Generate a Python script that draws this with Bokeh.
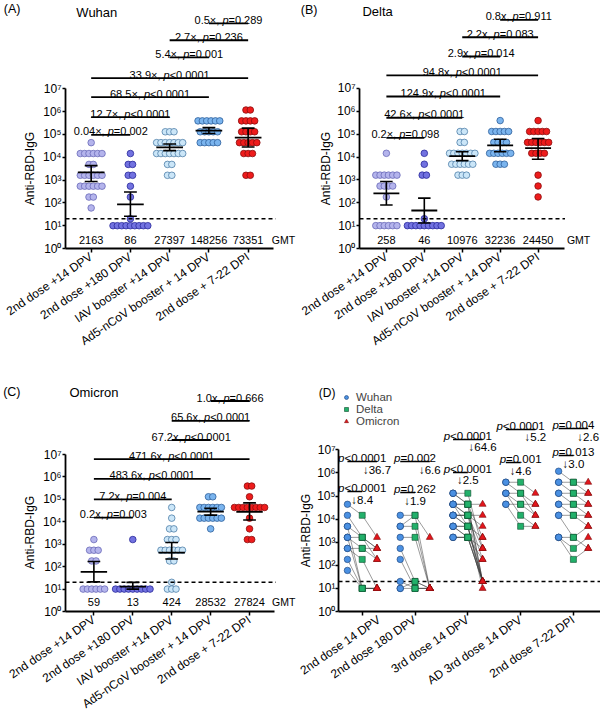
import math
from bokeh.plotting import figure
from bokeh.layouts import row, column
from bokeh.models import (Range1d, FixedTicker, Label, Legend, LegendItem, LogAxis, Title)
from bokeh.core.properties import value
from bokeh.embed import file_html
from bokeh.resources import INLINE

FONT = "Liberation Sans"

# ---------------- data ----------------
groups_abc = ["2nd dose +14 DPV", "2nd dose +180 DPV", "IAV booster +14 DPV",
              "Ad5-nCoV booster + 14 DPV", "2nd dose + 7-22 DPI"]
groups_d = ["2nd dose 14 DPV", "2nd dose 180 DPV", "3rd dose 14 DPV",
            "AD 3rd dose 14 DPV", "2nd dose 7-22 DPI"]
y_ticks = [1, 10, 100, 1000, 10000, 100000, 1000000, 10000000]
y_tick_labels = ["10⁰", "10¹", "10²", "10³", "10⁴", "10⁵", "10⁶", "10⁷"]
y_title = "Anti-RBD-IgG"
detection_limit = 20

# (A) Wuhan
wuhan_g0 = [43740, 14580, 14580, 14580, 14580, 14580, 14580, 4860, 4860, 1620, 1620, 1620,
            1620, 1620, 1620, 540, 540, 540, 540, 540, 540, 180, 180, 60]
wuhan_g1 = [14580, 4860, 4860, 1620, 1620, 540, 180, 20, 10, 10, 10, 10, 10, 10, 10, 10, 10]
wuhan_g2 = [131220, 131220, 131220, 43740, 43740, 43740, 43740, 43740, 43740, 43740, 14580,
            14580, 14580, 14580, 14580, 14580, 14580, 4860, 4860, 1620, 1620]
wuhan_g3 = [393660, 393660, 393660, 393660, 393660, 393660, 131220, 131220, 131220, 131220,
            131220, 43740, 43740, 43740, 43740, 43740]
wuhan_g4 = [1180980, 1180980, 393660, 393660, 393660, 393660, 131220, 131220, 131220, 131220,
            43740, 43740, 43740, 43740, 43740, 14580, 14580, 14580, 1620, 1620]
gmt_wuhan = [2163, 86, 27397, 148256, 73351]
ci_lo_wuhan = [870, 26, 19500, 110000, 28000]
ci_hi_wuhan = [4300, 300, 38000, 200000, 190000]
cmp_fold_wuhan = ["0.04×", "12.7×", "68.5×", "33.9×", "5.4×", "2.7×", "0.5×"]
cmp_p_wuhan = ["p=0.002", "p<0.0001", "p<0.0001", "p<0.0001", "p=0.001", "p=0.236", "p=0.289"]

# (B) Delta
delta_g0 = [14580, 1620, 1620, 1620, 1620, 1620, 1620, 540, 540, 540, 540, 180,
            10, 10, 10, 10, 10, 10]
delta_g1 = [14580, 4860, 1620, 1620, 20, 10, 10, 10, 10, 10, 10, 10, 10, 10]
delta_g2 = [131220, 131220, 43740, 43740, 14580, 14580, 14580, 14580, 14580, 14580, 14580,
            4860, 4860, 4860, 4860, 4860, 4860, 1620, 1620, 1620]
delta_g3 = [393660, 131220, 131220, 131220, 131220, 131220, 43740, 43740, 43740, 43740,
            14580, 14580, 14580, 14580, 14580, 14580, 4860, 4860, 4860]
delta_g4 = [393660, 131220, 131220, 131220, 131220, 131220, 43740, 43740, 43740, 43740, 43740,
            43740, 14580, 14580, 14580, 14580, 1620, 540, 180]
gmt_delta = [258, 46, 10976, 32236, 24450]
ci_lo_delta = [80, 13, 7000, 17000, 8000]
ci_hi_delta = [850, 160, 17000, 60000, 65000]
cmp_fold_delta = ["0.2×", "42.6×", "124.9x", "94.8x", "2.9x", "2.2x", "0.8x"]
cmp_p_delta = ["p=0.098", "p<0.0001", "p<0.0001", "p<0.0001", "p=0.014", "p=0.083", "p=0.911"]

# (C) Omicron
omicron_g0 = [1620, 540, 540, 540, 180, 180, 10, 10, 10, 10, 10, 10]
omicron_g1 = [1620, 10, 10, 10, 10, 10, 10, 10, 10, 10]
omicron_g2 = [43740, 14580, 4860, 4860, 1620, 1620, 1620, 540, 540, 540, 540, 540, 540,
              180, 180, 20, 10, 10, 10]
omicron_g3 = [131220, 131220, 43740, 43740, 43740, 43740, 43740, 43740, 14580, 14580, 14580,
              14580, 14580, 14580, 4860]
omicron_g4 = [393660, 393660, 131220, 43740, 43740, 43740, 43740, 43740, 43740, 43740, 43740,
              14580, 4860, 1620, 1620]
gmt_omicron = [59, 13, 424, 28532, 27824]
ci_lo_omicron = [21, 10, 220, 20000, 12000]
ci_hi_omicron = [170, 20, 1200, 40000, 70000]
cmp_fold_omicron = ["0.2x", "7.2x", "483.6x", "471.6x", "67.2x", "65.6x", "1.0x"]
cmp_p_omicron = ["p=0.003", "p=0.004", "p<0.0001", "p<0.0001", "p<0.0001", "p<0.0001", "p=0.666"]

cmp_pairs = [(0, 1), (0, 2), (0, 3), (0, 4), (2, 3), (2, 4), (3, 4)]

# (D) paired samples: per group, each subject's Wuhan / Delta / Omicron titre
d_wuhan = [
    [43740, 14580, 4860, 4860, 1620, 1620, 1620, 540, 540, 180, 60],
    [14580, 4860, 4860, 1620, 540, 180, 20, 10, 10],
    [131220, 131220, 131220, 43740, 43740, 43740, 43740, 43740, 14580, 14580, 14580, 14580,
     14580, 4860, 4860, 4860, 4860, 1620, 1620, 1620],
    [393660, 393660, 131220, 131220, 131220, 43740, 43740],
    [1180980, 393660, 393660, 131220, 131220, 43740, 43740, 14580, 14580, 1620, 1620, 1620],
]
d_delta = [
    [14580, 1620, 1620, 10, 540, 1620, 10, 540, 180, 10, 10],
    [14580, 14580, 4860, 1620, 20, 10, 10, 20, 10],
    [131220, 43740, 43740, 43740, 43740, 14580, 14580, 4860, 14580, 14580, 4860, 4860,
     14580, 4860, 4860, 1620, 1620, 1620, 1620, 1620],
    [393660, 131220, 131220, 43740, 14580, 43740, 4860],
    [393660, 393660, 131220, 131220, 43740, 43740, 14580, 14580, 1620, 540, 180, 1620],
]
d_omicron = [
    [1620, 540, 180, 10, 540, 540, 10, 180, 10, 10, 10],
    [10, 1620, 10, 10, 10, 10, 10, 10, 10],
    [540, 43740, 20, 1620, 20, 14580, 180, 20, 4860, 20, 20, 10, 540, 20, 1620, 540,
     20, 20, 180, 20],
    [131220, 43740, 14580, 43740, 4860, 14580, 4860],
    [393660, 131220, 43740, 131220, 14580, 43740, 4860, 14580, 4860, 1620, 540, 540],
]
d_p_omicron = ["p<0.0001", "p=0.002", "p<0.0001", "p<0.0001", "p=0.004"]
d_fold_omicron = ["36.7", "6.6", "64.6", "5.2", "2.6"]
d_p_delta = ["p<0.0001", "p=0.262", "p<0.0001", "p=0.001", "p=0.013"]
d_fold_delta = ["8.4", "1.9", "2.5", "4.6", "3.0"]

# ---------------- styling / layout ----------------
cat_fill = ["#b4b4ec", "#7272e0", "#cbe6f8", "#7ab4ee", "#ee1c1c"]
cat_line = ["#6a6ab8", "#2a2a9a", "#4f7fa8", "#2e5f9a", "#8a0e0e"]
c_wuhan, c_delta, c_omicron = "#4a90e2", "#22b06a", "#e3161c"

ARIAL = {'.': 0.278, ',': 0.278, ' ': 0.278, '×': 0.584, 'x': 0.5, '=': 0.584, '<': 0.584,
         'p': 0.556, '(': 0.333, ')': 0.333, 'A': 0.667, 'B': 0.667, 'D': 0.722, 'G': 0.778,
         'R': 0.722, 'I': 0.278, '-': 0.333, 'n': 0.556, 't': 0.278, 'i': 0.222, 'g': 0.556}


def text_w(s, fs):
    return sum(ARIAL.get(ch, 0.556) for ch in s) * fs


class Geo:
    """maps reference-pixel positions of a panel onto its data coordinates"""
    def __init__(self, cat0, sp, zero, dec, fig_left, fig_top, frame_left):
        self.cat0, self.sp, self.zero, self.dec = cat0, sp, zero, dec
        self.fig_left, self.fig_top, self.frame_left = fig_left, fig_top, frame_left

    def x(self, px):
        return (px - self.cat0) / self.sp

    def y(self, py):
        return 10 ** ((self.zero - py) / self.dec)


def style_axis(ax):
    ax.axis_line_width = 1.8
    ax.axis_line_color = "black"
    ax.major_tick_line_width = 1.5
    ax.major_tick_line_color = "black"
    ax.major_tick_out = 4
    ax.major_tick_in = 0
    ax.minor_tick_out = 0
    ax.minor_tick_in = 0
    ax.major_label_text_font = FONT
    ax.major_label_text_font_size = "12px"
    ax.major_label_text_color = "black"


def base_fig(g, width, height, frame_bottom, axis_right, y_labels=True):
    p = figure(width=width, height=height, output_backend="svg", toolbar_location=None,
               y_axis_type="log",
               x_range=Range1d(g.x(g.frame_left), g.x(g.fig_left + width)),
               y_range=Range1d(1, g.y(g.fig_top)),
               min_border_left=g.frame_left - g.fig_left, min_border_right=0,
               min_border_top=0, min_border_bottom=g.fig_top + height - frame_bottom)
    p.outline_line_color = None
    p.xgrid.visible = False
    p.ygrid.visible = False
    ya = p.yaxis[0]
    xa = p.xaxis[0]
    style_axis(xa)
    style_axis(ya)
    ya.ticker = FixedTicker(ticks=y_ticks)
    ya.bounds = (1, 10000000)
    ya.major_tick_out = 3
    if y_labels:
        ya.major_label_overrides = dict(zip(y_ticks, y_tick_labels))
        ya.major_label_standoff = 1
    else:
        ya.major_label_overrides = {t: "" for t in y_ticks}
        ya.major_label_standoff = 0
    xa.ticker = FixedTicker(ticks=[0, 1, 2, 3, 4])
    xa.major_label_orientation = 0.6
    xa.major_label_standoff = 3
    if axis_right is not None:
        xa.bounds = (g.x(g.frame_left), g.x(axis_right))
    return p


def label_axis(p, ticks, labels, standoff, size):
    """an extra left axis that only carries text (no line, no tick marks)"""
    ax = LogAxis(ticker=FixedTicker(ticks=ticks),
                 major_label_overrides=dict(zip(ticks, labels)),
                 axis_line_color=None, major_tick_line_color=None,
                 minor_tick_line_color=None, major_tick_out=0, major_tick_in=0,
                 minor_tick_out=0, major_label_standoff=standoff,
                 major_label_text_font=FONT, major_label_text_font_size=f"{size}px",
                 major_label_text_color="black")
    p.add_layout(ax, "left")


def y_title_left(p, center_py, frame_bottom_py, standoff):
    length = text_w(y_title, 12)
    p.add_layout(Title(text=y_title, align="left",
                       offset=frame_bottom_py - center_py - length / 2,
                       standoff=standoff, vertical_align="middle", text_font=FONT,
                       text_font_size="12px", text_font_style="normal",
                       text_color="black"), "left")


def add_label(p, g, px, py, text, size):
    p.add_layout(Label(x=g.x(px), y=g.y(py), text=text, text_font=FONT,
                       text_font_size=f"{size}px", text_align="left",
                       text_baseline="middle", text_color="black"))


def add_scatter_panel(p, g, groups, gmts, lo, hi, folds, pvals, bar_logs, dash_right,
                      gmt_py, gmt_label_px):
    step = 4.4 / g.sp
    for ci, vals in enumerate(groups):
        xs, ys = [], []
        counts = {}
        for v in vals:
            counts[v] = counts.get(v, 0) + 1
        seen = {}
        for v in vals:
            n = counts[v]
            i = seen.get(v, 0)
            seen[v] = i + 1
            xs.append(ci + (i - (n - 1) / 2) * step)
            ys.append(v)
        p.scatter(xs, ys, marker="circle", size=6.6, fill_color=cat_fill[ci],
                  line_color=cat_line[ci], line_width=0.8)
    # error bars: geometric mean with 95% CI
    cats = list(range(len(gmts)))
    mh, ch = 13.5 / g.sp, 6.5 / g.sp
    p.segment(x0=cats, y0=lo, x1=cats, y1=hi, line_color="black", line_width=1.6)
    p.segment(x0=[c - mh for c in cats], y0=gmts, x1=[c + mh for c in cats], y1=gmts,
              line_color="black", line_width=1.8)
    p.segment(x0=[c - ch for c in cats] * 2, y0=lo + hi, x1=[c + ch for c in cats] * 2,
              y1=lo + hi, line_color="black", line_width=1.6)
    # detection limit
    p.segment(x0=[p.x_range.start], y0=[detection_limit], x1=[dash_right],
              y1=[detection_limit], line_color="black", line_width=1.5, line_dash="4 3")
    # GMT values
    gy = g.y(gmt_py)
    p.text(x=cats, y=[gy] * len(cats), text=[str(v) for v in gmts], text_align="center",
           text_baseline="middle", text_font=value(FONT), text_font_size="11px",
           text_color="black")
    p.text(x=[g.x(gmt_label_px)], y=[gy], text=["GMT"], text_align="left",
           text_baseline="middle", text_font=value(FONT), text_font_size="10.5px",
           text_color="black")
    # comparison brackets
    fs = 11
    bx0, bx1, by = [], [], []
    nx, ny, nt, no = [], [], [], []
    ix, iy, it, io = [], [], [], []
    for (a, b), f, pv, bl in zip(cmp_pairs, folds, pvals, bar_logs):
        yy = 10 ** bl
        bx0.append(a); bx1.append(b); by.append(yy)
        pre, ital, suf = f + ", ", pv[0], pv[1:]
        wp, wi, ws = text_w(pre, fs), text_w(ital, fs), text_w(suf, fs)
        start = -(wp + wi + ws) / 2
        c = (a + b) / 2
        nx += [c, c]; ny += [yy, yy]; nt += [pre, suf]; no += [start, start + wp + wi]
        ix.append(c); iy.append(yy); it.append(ital); io.append(start + wp)
    p.segment(x0=bx0, y0=by, x1=bx1, y1=by, line_color="black", line_width=1.8)
    p.text(x=nx, y=ny, text=nt, x_offset=no, y_offset=-3.5, text_align="left",
           text_baseline="alphabetic", text_font=value(FONT), text_font_size=f"{fs}px",
           text_color="black")
    p.text(x=ix, y=iy, text=it, x_offset=io, y_offset=-3.5, text_align="left",
           text_baseline="alphabetic", text_font=value(FONT), text_font_size=f"{fs}px",
           text_font_style="italic", text_color="black")


TOP_H, BOT_H = 366, 358
LEFT_W, RIGHT_W = 297, 303

# ---------------- panel A ----------------
gA = Geo(88, 39.75, 249, 22.9, 0, 0, 62)
pA = base_fig(gA, LEFT_W, TOP_H, 249, 273)
pA.xaxis[0].major_label_overrides = dict(enumerate(groups_abc))
add_scatter_panel(pA, gA, [wuhan_g0, wuhan_g1, wuhan_g2, wuhan_g3, wuhan_g4], gmt_wuhan,
                  ci_lo_wuhan, ci_hi_wuhan, cmp_fold_wuhan, cmp_p_wuhan,
                  [4.98, 5.76, 6.64, 7.47, 8.38, 9.13, 9.87], gA.x(275), 240, 271)
add_label(pA, gA, 73, 12, "Wuhan", 13)
y_title_left(pA, 169, 249, 3)
label_axis(pA, [gA.y(9)], ["(A)"], 0, 12.5)

# ---------------- panel B ----------------
gB = Geo(377, 39.5, 248, 22.86, LEFT_W, 0, 349)
pB = base_fig(gB, RIGHT_W, TOP_H, 248, 562)
pB.xaxis[0].major_label_overrides = dict(enumerate(groups_abc))
add_scatter_panel(pB, gB, [delta_g0, delta_g1, delta_g2, delta_g3, delta_g4], gmt_delta,
                  ci_lo_delta, ci_hi_delta, cmp_fold_delta, cmp_p_delta,
                  [4.84, 5.72, 6.65, 7.57, 8.40, 9.24, 10.0], gB.x(563), 239.5, 565)
add_label(pB, gB, 352, 11, "Delta", 13)
y_title_left(pB, 168, 248, 0)
label_axis(pB, [gB.y(9)], ["(B)"], 0, 12.5)

# ---------------- panel C ----------------
gC = Geo(89, 39.75, 613, 22.6, 0, 366, 60)
pC = base_fig(gC, LEFT_W, BOT_H, 613, 273)
pC.xaxis[0].major_label_overrides = dict(enumerate(groups_abc))
add_scatter_panel(pC, gC, [omicron_g0, omicron_g1, omicron_g2, omicron_g3, omicron_g4],
                  gmt_omicron, ci_lo_omicron, ci_hi_omicron, cmp_fold_omicron, cmp_p_omicron,
                  [4.19, 5.0, 5.92, 6.80, 7.65, 8.50, 9.39], gC.x(275), 603, 271)
add_label(pC, gC, 64, 392, "Omicron", 13)
y_title_left(pC, 534, 613, 3)
label_axis(pC, [gC.y(392)], ["(C)"], 0, 12.5)

# ---------------- panel D ----------------
gD = Geo(359, 53.4, 611, 23.1, LEFT_W, 366, 335)
pD = base_fig(gD, RIGHT_W, BOT_H, 611, None, y_labels=False)
pD.xaxis[0].major_label_overrides = dict(enumerate(groups_d))
label_axis(pD, y_ticks + [gD.y(392)], y_tick_labels + ["(D)"], 0, 12)
y_title_left(pD, 530, 611, 0)
off = 0.28
pD.segment(x0=[pD.x_range.start], y0=[detection_limit], x1=[pD.x_range.end],
           y1=[detection_limit], line_color="black", line_width=1.5, line_dash="4 3")
lx, ly = [], []
wx, wy, dx, dy, ox, oy = [], [], [], [], [], []
for c in range(5):
    for w, d, o in zip(d_wuhan[c], d_delta[c], d_omicron[c]):
        lx.append([c - off, c, c + off]); ly.append([w, d, o])
        wx.append(c - off); wy.append(w)
        dx.append(c); dy.append(d)
        ox.append(c + off); oy.append(o)
pD.multi_line(lx, ly, line_color="#3c3c3c", line_width=0.6, line_alpha=0.85)
sw = pD.scatter(wx, wy, marker="circle", size=6.5, fill_color=c_wuhan, line_color="#1b3f73",
                line_width=0.6)
sd = pD.scatter(dx, dy, marker="square", size=6, fill_color=c_delta, line_color="#0e4d2d",
                line_width=0.6)
so = pD.scatter(ox, oy, marker="triangle", size=7, fill_color=c_omicron,
                line_color="#7b0a0a", line_width=0.6)
lw = pD.line([], [], line_color=c_wuhan, line_width=1)
ld = pD.line([], [], line_color=c_delta, line_width=1)
lo_ = pD.line([], [], line_color=c_omicron, line_width=1)
legend = Legend(items=[LegendItem(label="Wuhan", renderers=[lw, sw]),
                       LegendItem(label="Delta", renderers=[ld, sd]),
                       LegendItem(label="Omicron", renderers=[lo_, so])],
                location=(2, 184), orientation="vertical", spacing=0, padding=0, margin=0,
                glyph_width=12, glyph_height=10, label_height=10, label_standoff=4,
                label_text_font=FONT, label_text_font_size="11.5px",
                border_line_alpha=0, background_fill_alpha=0)
pD.add_layout(legend)

# paired comparison annotations (p value over bar, median fold drop below)
bar1 = [6.49, 6.49, 7.45, 7.88, 7.92]
bar2 = [5.19, 5.15, 6.02, 6.45, 6.75]
bx0, bx1, by = [], [], []
px_, py_, pt_, po_ = [], [], [], []
ix_, iy_, it_, io_ = [], [], [], []
fx, fy, ft = [], [], []
fs = 11.5
for c in range(5):
    for pv, fold, bl, xe in ((d_p_omicron[c], d_fold_omicron[c], bar1[c], c + off),
                             (d_p_delta[c], d_fold_delta[c], bar2[c], c)):
        yy = 10 ** bl
        bx0.append(c - off); bx1.append(xe); by.append(yy)
        wi, ws = text_w(pv[0], fs), text_w(pv[1:], fs)
        start = -(wi + ws) / 2
        ix_.append(c); iy_.append(yy); it_.append(pv[0]); io_.append(start)
        px_.append(c); py_.append(yy); pt_.append(pv[1:]); po_.append(start + wi)
        fx.append(xe); fy.append(yy); ft.append("↓" + fold)
pD.segment(x0=bx0, y0=by, x1=bx1, y1=by, line_color="black", line_width=1.5)
pD.text(x=px_, y=py_, text=pt_, x_offset=po_, y_offset=-3.5, text_align="left",
        text_baseline="alphabetic", text_font=value(FONT), text_font_size=f"{fs}px",
        text_color="black")
pD.text(x=ix_, y=iy_, text=it_, x_offset=io_, y_offset=-3.5, text_align="left",
        text_baseline="alphabetic", text_font=value(FONT), text_font_size=f"{fs}px",
        text_font_style="italic", text_color="black")
pD.text(x=fx, y=fy, text=ft, y_offset=8, text_align="center", text_baseline="middle",
        text_font=value(FONT), text_font_size=f"{fs}px", text_color="black")

layout = column(row(pA, pB), row(pC, pD))
open("out.html", "w").write(file_html(layout, INLINE))
